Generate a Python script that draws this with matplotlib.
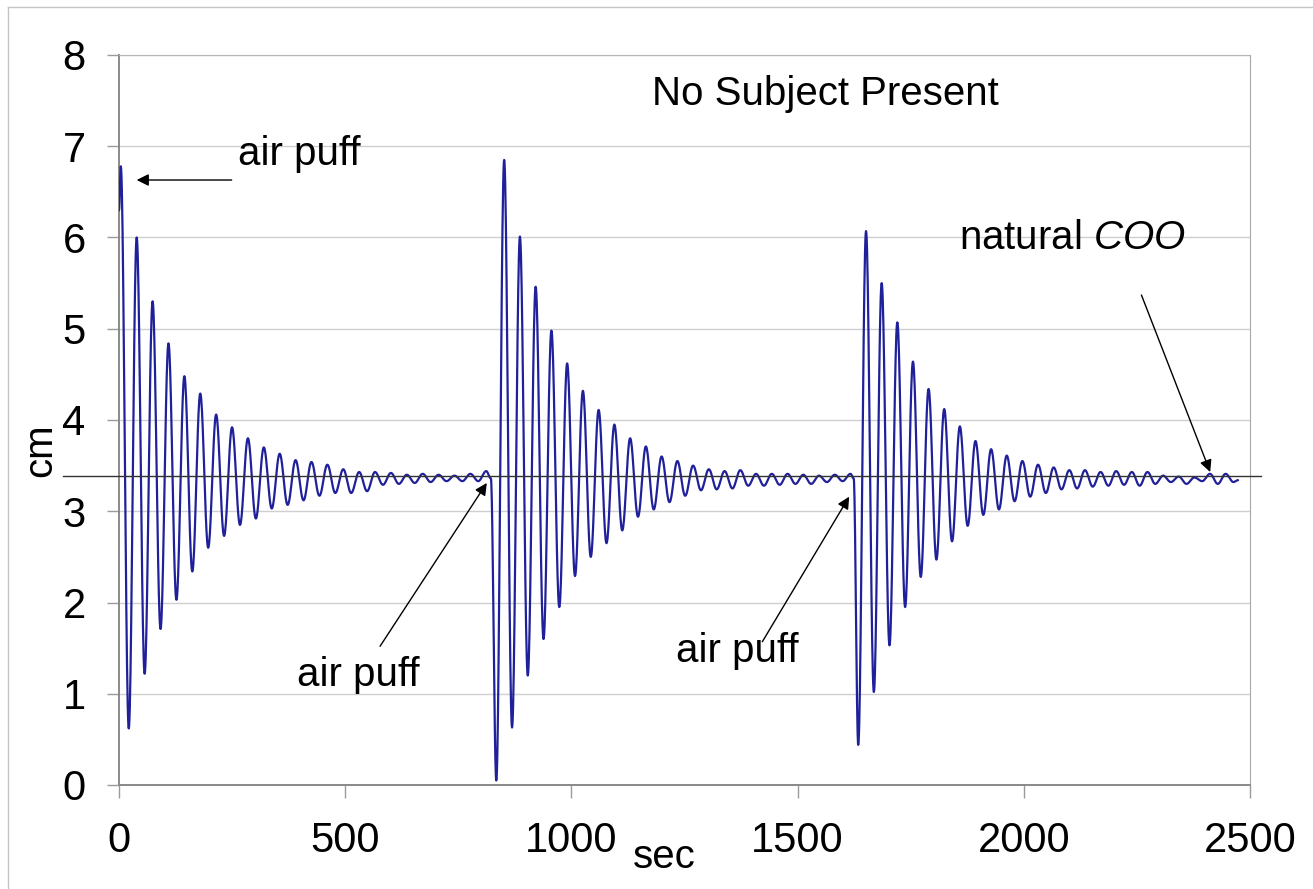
import numpy as np
import matplotlib
matplotlib.use("Agg")
from matplotlib import pyplot as plt
from matplotlib.lines import Line2D

plt.rcParams['font.family'] = ['Liberation Sans', 'DejaVu Sans']
plt.rcParams['mathtext.fontset'] = 'custom'
plt.rcParams['mathtext.it'] = 'Liberation Sans:italic'
plt.rcParams['mathtext.rm'] = 'Liberation Sans'

# displacement turning points (cm) for the three ring-downs, alternating peak/trough
burst1_start = 4.0      # sec, first extremum
burst1_half = 17.56     # sec between extrema
burst1_vals = [6.78, 0.62, 6.00, 1.22, 5.30, 1.71, 4.84, 2.03, 4.48, 2.34,
               4.29, 2.60, 4.06, 2.73, 3.92, 2.85, 3.80, 2.92, 3.70, 3.03,
               3.63, 3.07, 3.56, 3.12, 3.54, 3.17, 3.51, 3.20, 3.46, 3.20,
               3.43, 3.22, 3.43, 3.29, 3.42, 3.30, 3.40, 3.31, 3.41, 3.32,
               3.40, 3.33, 3.39, 3.33, 3.41, 3.33, 3.44]

burst2_start = 834.0
burst2_half = 17.4
burst2_vals = [0.05, 6.85, 0.63, 6.01, 1.20, 5.46, 1.60, 4.98, 1.95, 4.62,
               2.29, 4.32, 2.50, 4.11, 2.65, 3.95, 2.79, 3.80, 2.94, 3.71,
               3.02, 3.60, 3.10, 3.55, 3.17, 3.50, 3.23, 3.46, 3.24, 3.44,
               3.25, 3.45, 3.28, 3.41, 3.28, 3.41, 3.29, 3.41, 3.30, 3.40,
               3.30, 3.39, 3.32, 3.40, 3.33, 3.41]

burst3_start = 1634.0
burst3_half = 17.28
burst3_vals = [0.44, 6.07, 1.02, 5.50, 1.53, 5.07, 1.95, 4.64, 2.28, 4.34,
               2.47, 4.12, 2.67, 3.93, 2.84, 3.77, 2.96, 3.68, 3.02, 3.61,
               3.11, 3.55, 3.16, 3.51, 3.20, 3.48, 3.24, 3.45, 3.25, 3.45,
               3.27, 3.43, 3.28, 3.44, 3.29, 3.43, 3.28, 3.43, 3.30, 3.39,
               3.32, 3.38, 3.30, 3.37, 3.33, 3.41, 3.30, 3.41, 3.32]

# single points joining the segments (start, just before each puff, end)
start_pt = (0.0, 6.30)
pre_puff2 = (822.0, 3.36)
pre_puff3 = (1624.0, 3.36)
end_pt = (2473.0, 3.34)

rest_level = 3.39  # natural centre of oscillation
x_ticks = [0, 500, 1000, 1500, 2000, 2500]
y_ticks = [0, 1, 2, 3, 4, 5, 6, 7, 8]


def extrema(start, half, vals):
  return [(start + i * half, v) for i, v in enumerate(vals)]


def smooth_path(points, n=24):
  '''join turning points with half-cosine arcs'''
  ts, vs = [points[0][0]], [points[0][1]]
  for (ta, va), (tb, vb) in zip(points[:-1], points[1:]):
    s = np.linspace(0, 1, n)[1:]
    ts.extend(ta + (tb - ta) * s)
    vs.extend(va + (vb - va) * (1 - np.cos(np.pi * s)) / 2)
  return np.array(ts), np.array(vs)


pts = [start_pt]
pts += extrema(burst1_start, burst1_half, burst1_vals)
pts.append(pre_puff2)
pts += extrema(burst2_start, burst2_half, burst2_vals)
pts.append(pre_puff3)
pts += extrema(burst3_start, burst3_half, burst3_vals)
pts.append(end_pt)
t, y = smooth_path(pts)

W, H = 1313, 889
fig = plt.figure(figsize=(W / 100, H / 100), dpi=100)
ax = fig.add_axes([119 / W, 1 - 785 / H, (1250 - 119) / W, (785 - 55) / H])

ax.plot(t, y, color='#20209a', lw=1.6, zorder=3)

ax.set_xlim(0, 2500)
ax.set_ylim(0, 8)
ax.set_xticks(x_ticks)
ax.set_yticks(y_ticks)
ax.grid(axis='y', color='#cfcfcf', lw=1.0)
ax.tick_params(axis='both', labelsize=30, length=9, width=1, color='#9a9a9a')
ax.tick_params(axis='x', pad=17)
ax.tick_params(axis='y', pad=15)
for side in ['left', 'bottom']:
  ax.spines[side].set_color('#8a8a8a')
  ax.spines[side].set_linewidth(1.4)
ax.spines['right'].set_color('#a8a8a8')
ax.spines['top'].set_color('#b5b5b5')

# rest level line, running past both sides of the plot area
ax.plot([-124, 2524], [rest_level, rest_level], color='#333333', lw=1.0,
        clip_on=False, zorder=4)

arrow = dict(arrowstyle='-|>', color='black', lw=1.0, mutation_scale=18,
             shrinkA=0, shrinkB=0)
fs = 29
ax.text(1179, 7.45, 'No Subject Present', fontsize=fs, va='baseline')
ax.text(263, 6.79, 'air puff', fontsize=fs, va='baseline')
ax.annotate('', xy=(39, 6.63), xytext=(249, 6.63), arrowprops=arrow)
ax.text(393, 1.08, 'air puff', fontsize=fs, va='baseline')
ax.annotate('', xy=(813, 3.31), xytext=(577, 1.52), arrowprops=arrow)
ax.text(1232, 1.35, 'air puff', fontsize=fs, va='baseline')
ax.annotate('', xy=(1614, 3.16), xytext=(1422, 1.57), arrowprops=arrow)
ax.text(1856, 5.87, r'natural $\mathit{COO}$', fontsize=fs, va='baseline')
ax.annotate('', xy=(2412, 3.43), xytext=(2260, 5.37), arrowprops=arrow)

fig.text(40 / W, 1 - 450 / H, 'cm', fontsize=fs, rotation=90,
         ha='center', va='center')
fig.text(664 / W, 1 - 868 / H, 'sec', fontsize=fs, ha='center', va='baseline')

# thin frame round the chart area
fig.add_artist(Line2D([8 / W, 1.0], [1 - 7 / H, 1 - 7 / H], color='#c4c4c4', lw=1))
fig.add_artist(Line2D([8 / W, 8 / W], [0, 1 - 7 / H], color='#c4c4c4', lw=1))

fig.savefig('out.png', dpi=100)
